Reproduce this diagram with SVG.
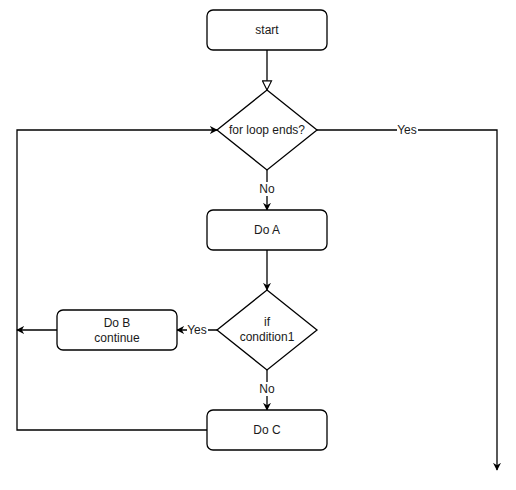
<svg xmlns="http://www.w3.org/2000/svg" width="516" height="490" viewBox="0 0 516 490">
<defs>
<style>
.box{fill:#fff;stroke:#000;stroke-width:1.3}
.t{font-family:"Liberation Sans",Arial,sans-serif;font-size:12px;fill:#1a1a1a;text-anchor:middle;dominant-baseline:central}
.e{fill:none;stroke:#000;stroke-width:1.3}
.lbl{fill:#fff}
</style>
<marker id="arr" viewBox="0 0 10 10" refX="9" refY="5" markerWidth="8" markerHeight="8" markerUnits="userSpaceOnUse" orient="auto">
<path d="M0,0 L10,5 L0,10 L3,5 Z" fill="#000"/>
</marker>
<marker id="open" viewBox="0 0 12 12" refX="11" refY="6" markerWidth="11" markerHeight="11" markerUnits="userSpaceOnUse" orient="auto">
<path d="M1,1 L11,6 L1,11 Z" fill="#fff" stroke="#000" stroke-width="1.2"/>
</marker>
</defs>
<rect width="516" height="490" fill="#fff"/>
<g id="connectors">
<path class="e" d="M267,50 V90" marker-end="url(#open)"/>
<path class="e" d="M267,170 V210" marker-end="url(#arr)"/>
<path class="e" d="M267,250 V290" marker-end="url(#arr)"/>
<path class="e" d="M217,330 H177" marker-end="url(#arr)"/>
<path class="e" d="M57,330 H17" marker-end="url(#arr)"/>
<path class="e" d="M267,370 V410" marker-end="url(#arr)"/>
<path class="e" d="M207,430 H17 V130 H217" marker-end="url(#arr)"/>
<path class="e" d="M317,130 H497 V470" marker-end="url(#arr)"/>
<rect class="lbl" x="258" y="182" width="18" height="14"/>
<text class="t" x="267" y="189">No</text>
<rect class="lbl" x="258" y="382" width="18" height="14"/>
<text class="t" x="267" y="389">No</text>
<rect class="lbl" x="187" y="323" width="21" height="14"/>
<text class="t" x="197" y="330">Yes</text>
<rect class="lbl" x="397" y="123" width="21" height="14"/>
<text class="t" x="407" y="130">Yes</text>
</g>
<g id="start">
<rect class="box" x="207" y="10" width="120" height="40" rx="6"/>
<text class="t" x="267" y="30">start</text>
</g>
<g id="loop">
<path class="box" d="M267,90 L317,130 L267,170 L217,130 Z"/>
<text class="t" x="267" y="130">for loop ends?</text>
</g>
<g id="doA">
<rect class="box" x="207" y="210" width="120" height="40" rx="6"/>
<text class="t" x="267" y="230">Do A</text>
</g>
<g id="cond">
<path class="box" d="M267,290 L317,330 L267,370 L217,330 Z"/>
<text class="t" x="267" y="322">if</text>
<text class="t" x="267" y="337">condition1</text>
</g>
<g id="doB">
<rect class="box" x="57" y="310" width="120" height="40" rx="6"/>
<text class="t" x="117" y="323">Do B</text>
<text class="t" x="117" y="338">continue</text>
</g>
<g id="doC">
<rect class="box" x="207" y="410" width="120" height="40" rx="6"/>
<text class="t" x="267" y="430">Do C</text>
</g>
</svg>
